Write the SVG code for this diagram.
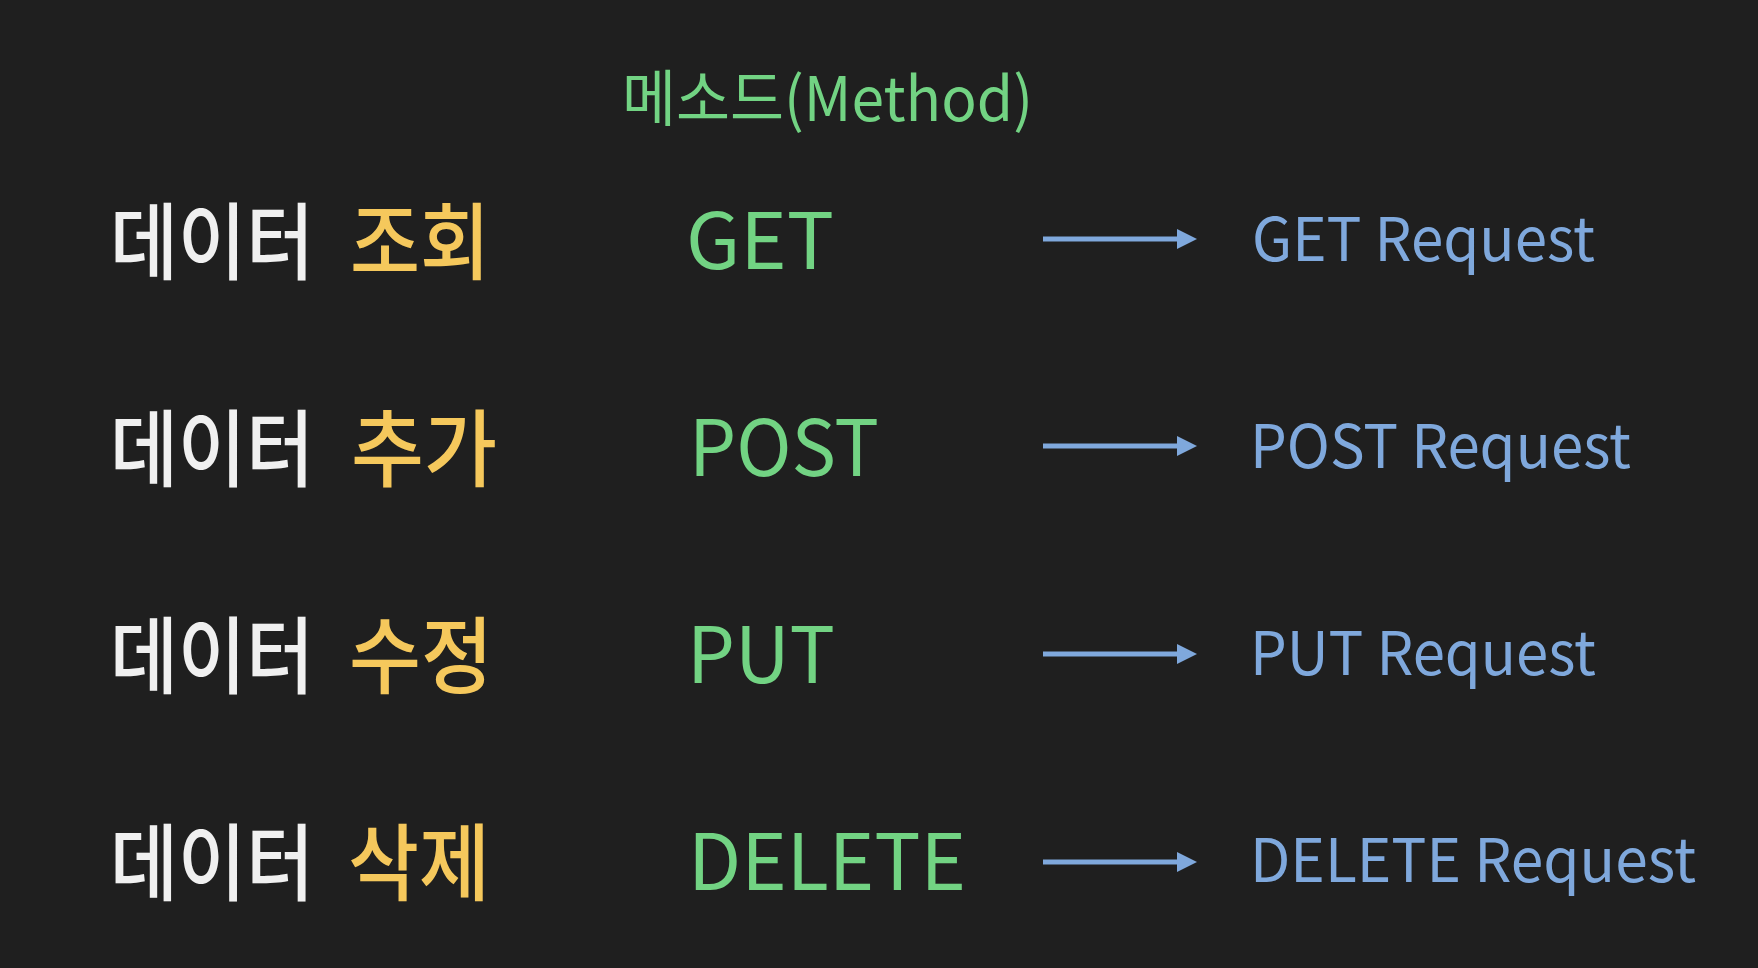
<svg xmlns="http://www.w3.org/2000/svg" width="1758" height="968" viewBox="0 0 1758 968">
  <style>
    text { font-family: "Noto Sans CJK KR", "Noto Sans", sans-serif; font-weight: 400; }
    .title { fill: #72d383; font-size: 61px; }
    .kw { fill: #f0f0f0; font-size: 84px; font-weight: 500; }
    .ky { fill: #f5c85c; font-size: 84px; font-weight: 500; }
    .method { fill: #72d383; font-size: 78px; }
    .req { fill: #7fa8dc; font-size: 60px; }
    .conn line { stroke: #7fa8dc; stroke-width: 5; }
  </style>
  <defs>
    <marker id="ah" markerUnits="userSpaceOnUse" markerWidth="20" markerHeight="20" refX="0" refY="10" orient="auto">
      <path d="M0,0 L20,10 L0,20 Z" fill="#7fa8dc"/>
    </marker>
  </defs>
  <rect width="1758" height="968" fill="#1f1f1f"/>

  <g id="title">
    <text class="title" x="622" y="121" textLength="411" lengthAdjust="spacingAndGlyphs">메소드(Method)</text>
  </g>

  <g id="row-get">
    <text class="kw" x="110" y="273" textLength="204" lengthAdjust="spacingAndGlyphs">데이터</text>
    <text class="ky" x="350" y="273" textLength="140" lengthAdjust="spacingAndGlyphs">조회</text>
    <text class="method" x="686" y="269" textLength="148" lengthAdjust="spacingAndGlyphs">GET</text>
  </g>
  <g id="req-get">
    <text class="req" x="1252" y="261" textLength="343" lengthAdjust="spacingAndGlyphs">GET Request</text>
  </g>

  <g id="row-post">
    <text class="kw" x="110" y="480" textLength="204" lengthAdjust="spacingAndGlyphs">데이터</text>
    <text class="ky" x="351" y="480" textLength="146" lengthAdjust="spacingAndGlyphs">추가</text>
    <text class="method" x="689" y="476" textLength="190" lengthAdjust="spacingAndGlyphs">POST</text>
  </g>
  <g id="req-post">
    <text class="req" x="1250" y="468" textLength="381" lengthAdjust="spacingAndGlyphs">POST Request</text>
  </g>

  <g id="row-put">
    <text class="kw" x="110" y="687" textLength="204" lengthAdjust="spacingAndGlyphs">데이터</text>
    <text class="ky" x="349" y="687" textLength="144" lengthAdjust="spacingAndGlyphs">수정</text>
    <text class="method" x="687" y="683" textLength="148" lengthAdjust="spacingAndGlyphs">PUT</text>
  </g>
  <g id="req-put">
    <text class="req" x="1250" y="675" textLength="346" lengthAdjust="spacingAndGlyphs">PUT Request</text>
  </g>

  <g id="row-delete">
    <text class="kw" x="110" y="894" textLength="204" lengthAdjust="spacingAndGlyphs">데이터</text>
    <text class="ky" x="348" y="894" textLength="142" lengthAdjust="spacingAndGlyphs">삭제</text>
    <text class="method" x="688" y="890" textLength="278" lengthAdjust="spacingAndGlyphs">DELETE</text>
  </g>
  <g id="req-delete">
    <text class="req" x="1250" y="882" textLength="446" lengthAdjust="spacingAndGlyphs">DELETE Request</text>
  </g>

  <g id="connectors" class="conn">
    <line x1="1043" y1="239" x2="1177" y2="239" marker-end="url(#ah)"/>
    <line x1="1043" y1="446" x2="1177" y2="446" marker-end="url(#ah)"/>
    <line x1="1043" y1="654" x2="1177" y2="654" marker-end="url(#ah)"/>
    <line x1="1043" y1="862" x2="1177" y2="862" marker-end="url(#ah)"/>
  </g>
</svg>
